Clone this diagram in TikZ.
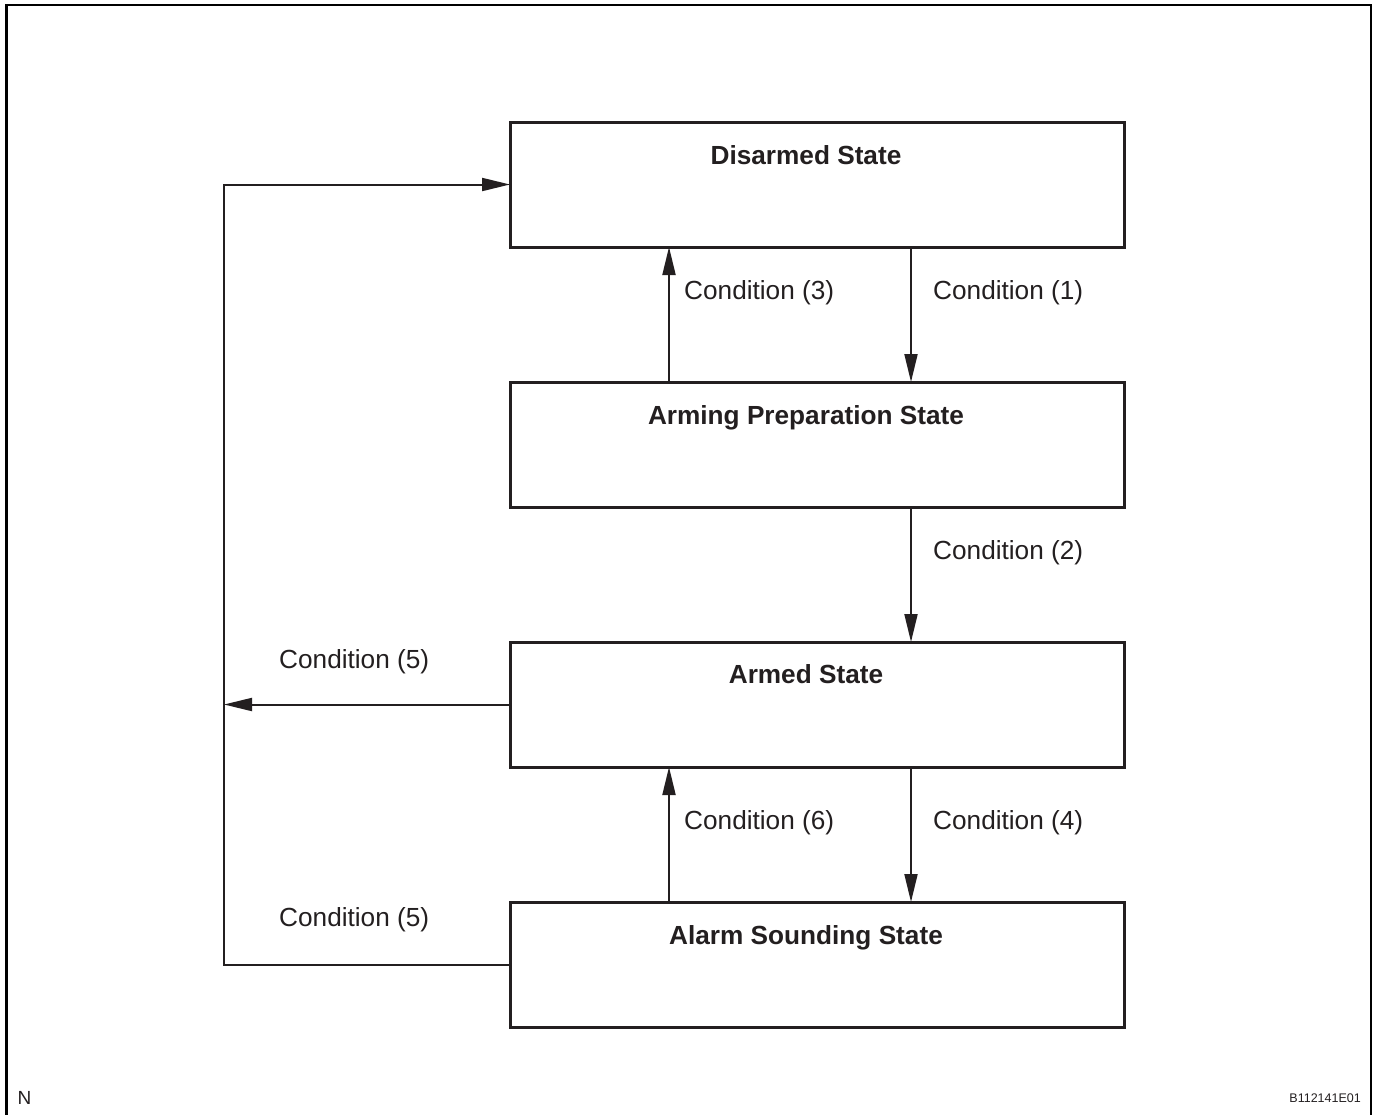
\documentclass[tikz,border=0pt]{standalone}
\usepackage{fontspec}
\setmainfont{Liberation Sans}
\usetikzlibrary{arrows.meta}
\definecolor{ink}{HTML}{231F20}
\tikzset{
  statebox/.style={draw=ink, line width=3pt, minimum width=614pt, minimum height=125pt, inner sep=0pt, outer sep=0pt},
  title/.style={anchor=base, inner sep=0pt, text=ink, font=\fontsize{26.2}{30}\selectfont\bfseries},
  cond/.style={anchor=base west, inner sep=0pt, text=ink, font=\fontsize{26.2}{30}\selectfont},
  conn/.style={draw=ink, line width=2pt},
  arr/.style={conn, -{Triangle[length=28pt,width=13pt]}},
}
\begin{document}
\begin{tikzpicture}[x=1pt,y=-1pt]
\useasboundingbox (0,0) rectangle (1376,1114);
% frame
\draw[line width=2.5pt, black] (6.5,1116) -- (6.5,5) -- (1371,5) -- (1371,1116);
% states
\node[statebox] (dis) at (817,184.5) {};
\node[statebox] (arm) at (817,444.5) {};
\node[statebox] (armd) at (817,704.5) {};
\node[statebox] (alm) at (817,964.5) {};
\node[title] (tdis) at (806,164) {Disarmed State};
\node[title] (tarm) at (806,424) {Arming Preparation State};
\node[title] (tarmd) at (806,683) {Armed State};
\node[title] (talm) at (806,944) {Alarm Sounding State};
% columns
\coordinate (cdown) at (911,0);
\coordinate (cup) at (669,0);
\coordinate (cleft) at (224,0);
% transitions
\draw[arr] (dis.south -| cdown) -- (arm.north -| cdown);
\draw[arr] (arm.north -| cup) -- (dis.south -| cup);
\draw[arr] (arm.south -| cdown) -- (armd.north -| cdown);
\draw[arr] (armd.south -| cdown) -- (alm.north -| cdown);
\draw[arr] (alm.north -| cup) -- (armd.south -| cup);
\draw[arr] (armd.west) -- (armd.west -| cleft);
\draw[arr] (alm.west) -- (alm.west -| cleft) -- (dis.west -| cleft) -- (dis.west);
% labels
\node[cond] (l3) at (684,299) {Condition (3)};
\node[cond] (l1) at (933,299) {Condition (1)};
\node[cond] (l2) at (933,559) {Condition (2)};
\node[cond] (l5a) at (279,668) {Condition (5)};
\node[cond] (l6) at (684,829) {Condition (6)};
\node[cond] (l4) at (933,829) {Condition (4)};
\node[cond] (l5b) at (279,926) {Condition (5)};
% corner marks
\node[anchor=base west, inner sep=0pt, text=ink, font=\fontsize{19}{22}\selectfont] (nmark) at (17.5,1104) {N};
\node[anchor=base east, inner sep=0pt, text=ink, font=\fontsize{12.5}{15}\selectfont] (code) at (1361,1102.5) {B112141E01};
\end{tikzpicture}
\end{document}
